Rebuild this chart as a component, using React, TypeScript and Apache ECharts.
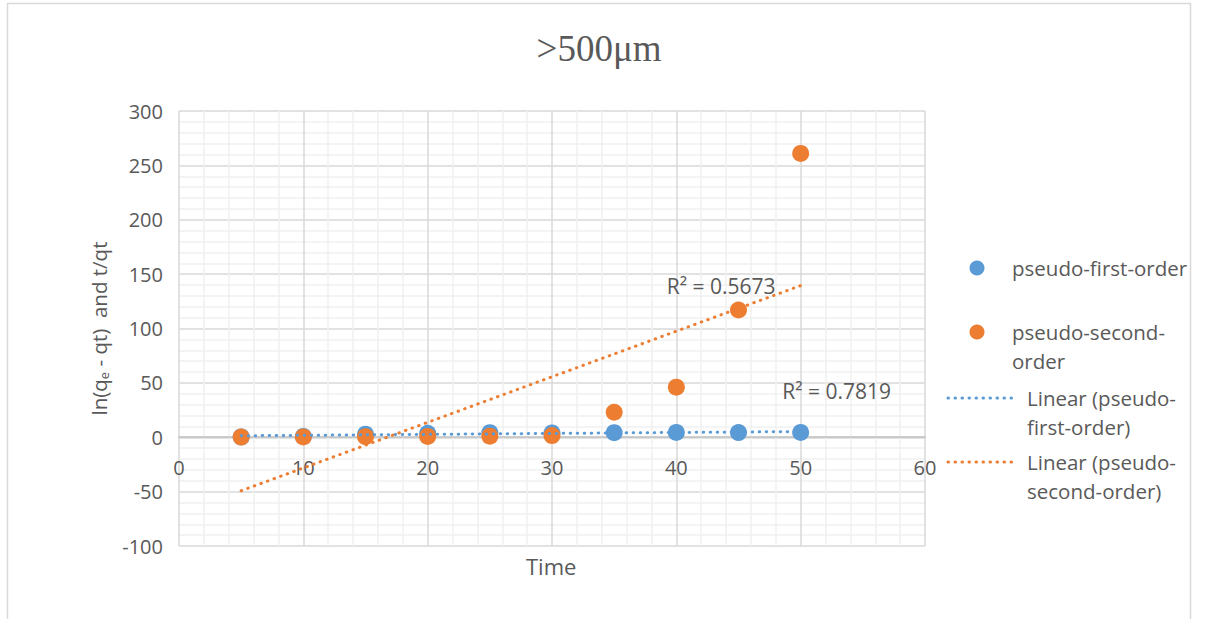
import React, { useEffect, useRef } from "react";
import * as echarts from "echarts";

const TIME = [5, 10, 15, 20, 25, 30, 35, 40, 45, 50];
const FIRST_ORDER = [0.3, 0.8, 2.8, 3.6, 4.2, 4.0, 4.2, 4.4, 4.3, 4.4];
const SECOND_ORDER = [0.2, 0.3, 0.5, 0.8, 1.0, 1.5, 23, 46, 117, 261];
const SERIES_NAMES = ["pseudo-first-order", "pseudo-second-order"];
const TREND_NAMES = ["Linear (pseudo-first-order)", "Linear (pseudo-second-order)"];
const R2_FIRST = "R² = 0.7819";
const R2_SECOND = "R² = 0.5673";
const R2_FIRST_POS = [52.9, 42.3];
const R2_SECOND_POS = [43.6, 138.9];
const TITLE = ">500μm";
const X_NAME = "Time";

const BLUE = "#5B9BD5";
const ORANGE = "#ED7D31";
const TEXT = "#595959";
const FONT = "Open Sans";

function fitLine(xs: number[], ys: number[]) {
  const n = xs.length;
  const mx = xs.reduce((a, b) => a + b, 0) / n;
  const my = ys.reduce((a, b) => a + b, 0) / n;
  let sxy = 0;
  let sxx = 0;
  for (let i = 0; i < n; i++) {
    sxy += (xs[i] - mx) * (ys[i] - my);
    sxx += (xs[i] - mx) * (xs[i] - mx);
  }
  const b = sxy / sxx;
  const a = my - b * mx;
  const x0 = Math.min(...xs);
  const x1 = Math.max(...xs);
  return [
    [x0, a + b * x0],
    [x1, a + b * x1],
  ];
}

export default function App() {
  const ref = useRef<HTMLDivElement>(null);
  useEffect(() => {
    if (!ref.current) return;
    const chart = echarts.init(ref.current, undefined, { renderer: "svg" });
    const firstPts = TIME.map((t, i) => [t, FIRST_ORDER[i]]);
    const secondPts = TIME.map((t, i) => [t, SECOND_ORDER[i]]);
    const dotType = [0.5, 6.5];
    const legendText = {
      fill: TEXT,
      fontFamily: FONT,
      fontSize: 20.5,
      lineHeight: 29,
      verticalAlign: "top" as const,
    };
    chart.setOption({
      animation: false,
      backgroundColor: "#ffffff",
      title: {
        text: TITLE,
        left: 594,
        top: 25,
        textAlign: "center",
        textStyle: {
          fontFamily: "Liberation Serif",
          fontSize: 37,
          fontWeight: "normal",
          color: TEXT,
        },
      },
      grid: { left: 179, right: 281, top: 111, bottom: 73, containLabel: false },
      xAxis: {
        type: "value",
        min: 0,
        max: 60,
        interval: 10,
        position: "bottom",
        offset: -109,
        axisLine: { show: true, onZero: false, lineStyle: { color: "#BFBFBF", width: 1.5 } },
        axisTick: { show: false },
        minorTick: { show: false, splitNumber: 5 },
        axisLabel: { color: TEXT, fontFamily: FONT, fontSize: 20, margin: 20 },
        splitLine: { show: true, lineStyle: { color: "#D9D9D9", width: 1.5 } },
        minorSplitLine: { show: true, lineStyle: { color: "#F0F0F0", width: 1.5 } },
      },
      yAxis: {
        type: "value",
        min: -100,
        max: 300,
        interval: 50,
        name: "ln(q{sub|e} - qt)  and t/qt",
        nameLocation: "middle",
        nameGap: 69,
        nameRotate: 90,
        nameTextStyle: {
          color: TEXT,
          fontFamily: FONT,
          fontSize: 20.5,
          rich: {
            sub: { fontSize: 13, color: TEXT, fontFamily: FONT, verticalAlign: "bottom", padding: [9, 0, 0, 0] },
          },
        },
        axisLine: { show: false },
        axisTick: { show: false },
        minorTick: { show: false, splitNumber: 5 },
        axisLabel: { color: TEXT, fontFamily: FONT, fontSize: 20, margin: 16 },
        splitLine: { show: true, lineStyle: { color: "#D9D9D9", width: 1.5 } },
        minorSplitLine: { show: true, lineStyle: { color: "#F0F0F0", width: 1.5 } },
      },
      series: [
        {
          name: SERIES_NAMES[0],
          type: "scatter",
          data: firstPts,
          symbolSize: 17,
          itemStyle: { color: BLUE, opacity: 1 },
          z: 2,
        },
        {
          name: SERIES_NAMES[1],
          type: "scatter",
          data: secondPts,
          symbolSize: 17,
          itemStyle: { color: ORANGE, opacity: 1 },
          z: 3,
        },
        {
          name: TREND_NAMES[0],
          type: "line",
          data: fitLine(TIME, FIRST_ORDER),
          symbol: "none",
          lineStyle: { color: BLUE, width: 3, type: dotType, cap: "round" },
          z: 4,
          markPoint: {
            symbol: "rect",
            symbolSize: 1,
            itemStyle: { color: "transparent" },
            label: { show: true, position: "inside", formatter: R2_FIRST, color: TEXT, fontFamily: FONT, fontSize: 21 },
            data: [{ coord: R2_FIRST_POS }],
          },
        },
        {
          name: TREND_NAMES[1],
          type: "line",
          data: fitLine(TIME, SECOND_ORDER),
          symbol: "none",
          lineStyle: { color: ORANGE, width: 3, type: dotType, cap: "round" },
          z: 5,
          markPoint: {
            symbol: "rect",
            symbolSize: 1,
            itemStyle: { color: "transparent" },
            label: { show: true, position: "inside", formatter: R2_SECOND, color: TEXT, fontFamily: FONT, fontSize: 21 },
            data: [{ coord: R2_SECOND_POS }],
          },
        },
      ],
      graphic: [
        {
          type: "rect",
          silent: true,
          z: -10,
          shape: { x: 7.5, y: 3.5, width: 1183, height: 640 },
          style: { fill: "none", stroke: "#D9D9D9", lineWidth: 1.5 },
        },
        {
          type: "text",
          left: 526,
          top: 555,
          style: { text: X_NAME, fill: TEXT, fontFamily: FONT, fontSize: 22 },
        },
        // legend
        { type: "circle", shape: { cx: 977, cy: 268, r: 7.5 }, style: { fill: BLUE } },
        { type: "text", x: 1012, y: 253, style: { ...legendText, text: "pseudo-first-order" } },
        { type: "circle", shape: { cx: 977, cy: 332, r: 7.5 }, style: { fill: ORANGE } },
        { type: "text", x: 1012, y: 317, style: { ...legendText, text: "pseudo-second-\norder" } },
        {
          type: "line",
          shape: { x1: 948, y1: 398, x2: 1014, y2: 398 },
          style: { stroke: BLUE, lineWidth: 3, lineDash: [0.5, 6.5], lineCap: "round" },
        },
        { type: "text", x: 1027, y: 383, style: { ...legendText, text: "Linear (pseudo-\nfirst-order)" } },
        {
          type: "line",
          shape: { x1: 948, y1: 462, x2: 1014, y2: 462 },
          style: { stroke: ORANGE, lineWidth: 3, lineDash: [0.5, 6.5], lineCap: "round" },
        },
        { type: "text", x: 1027, y: 447, style: { ...legendText, text: "Linear (pseudo-\nsecond-order)" } },
      ],
    });
    return () => chart.dispose();
  }, []);
  return (
    <div
      ref={ref}
      style={{ position: "fixed", left: 0, top: 0, width: 1206, height: 619, background: "#fff" }}
    />
  );
}
